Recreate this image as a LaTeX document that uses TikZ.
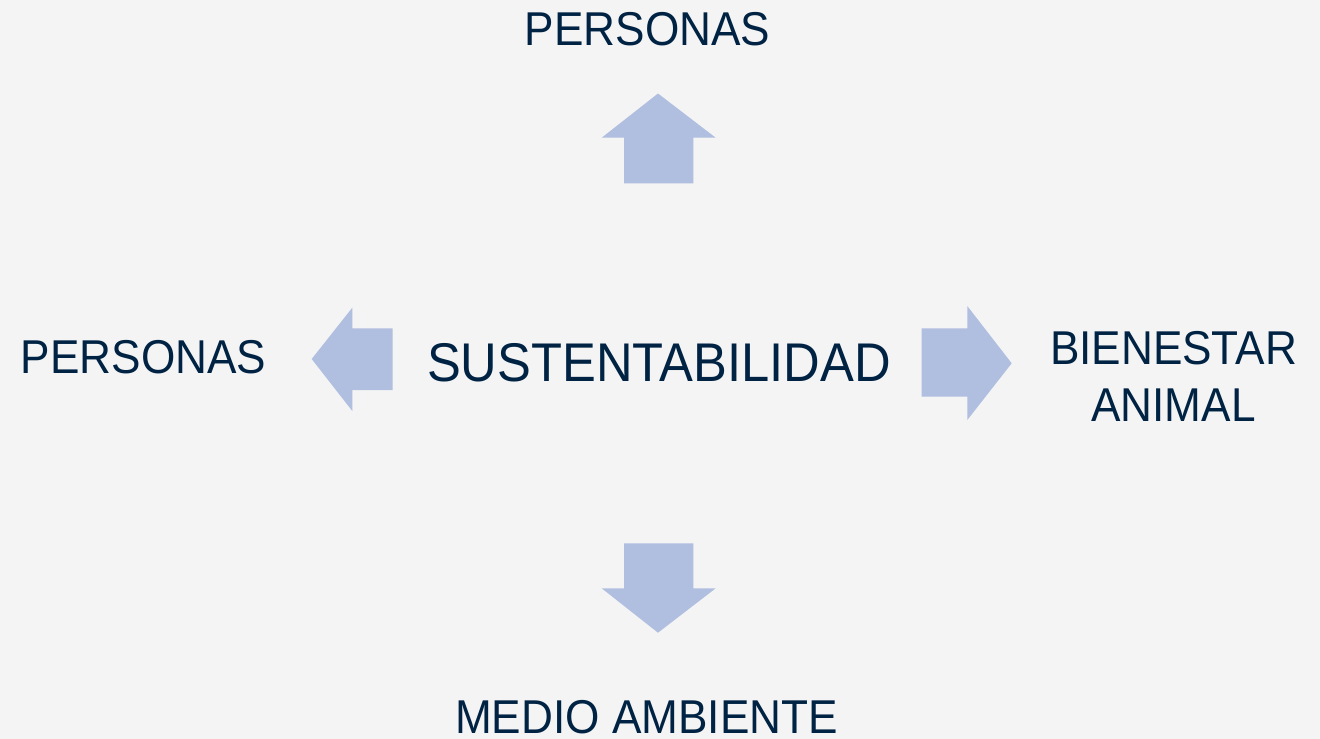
\documentclass[tikz,border=0pt]{standalone}
\usepackage{fontspec}
\setmainfont[FakeStretch=0.93]{Liberation Sans}
\definecolor{bgc}{RGB}{244,244,244}
\definecolor{arrc}{RGB}{176,190,224}
\definecolor{txtc}{RGB}{0,35,68}
\begin{document}
\begin{tikzpicture}[x=0.01cm,y=-0.01cm,
  lbl/.style={text=txtc,inner sep=0pt,anchor=base,font=\fontsize{13.5}{16.2}\selectfont,align=center},
  big/.style={lbl,font=\fontsize{15.5}{18}\selectfont},
  arr/.style={fill=arrc,draw=none}]
\fill[bgc] (0,0) rectangle (1320,739);
\useasboundingbox (0,0) rectangle (1320,739);
% arrows
\fill[arr] (658,93.5) -- (715.7,137.7) -- (693.3,137.7) -- (693.3,183.3) -- (624,183.3) -- (624,137.7) -- (601.7,137.7) -- cycle;
\fill[arr] (658,632.7) -- (715.7,588.3) -- (693.3,588.3) -- (693.3,543.3) -- (624,543.3) -- (624,588.3) -- (601.7,588.3) -- cycle;
\fill[arr] (311.7,359) -- (352.3,307.7) -- (352.3,328.3) -- (392.7,328.3) -- (392.7,390) -- (352.3,390) -- (352.3,411) -- cycle;
\fill[arr] (1011.7,363.3) -- (967.3,306) -- (967.3,328.3) -- (921.7,328.3) -- (921.7,396.7) -- (967.3,396.7) -- (967.3,420) -- cycle;
% labels
\node[big] (c) at (659,381.7) {SUSTENTABILIDAD};
\node[lbl] (t) at (647.5,45.7) {PERSONAS};
\node[lbl] (l) at (143.5,373.3) {PERSONAS};
\node[lbl] (r) at (1173.5,421.7) {BIENESTAR\\ANIMAL};
\node[lbl] (b) at (646.5,733.3) {MEDIO AMBIENTE};
\end{tikzpicture}
\end{document}
